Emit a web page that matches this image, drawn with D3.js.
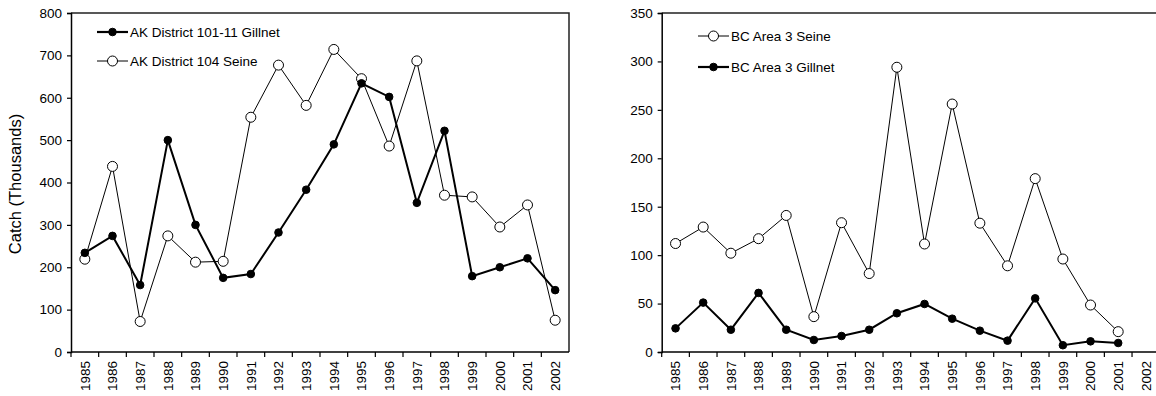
<!DOCTYPE html>
<html><head><meta charset="utf-8">
<script src="https://cdn.jsdelivr.net/npm/d3@7"></script>
<style>body{margin:0;background:#fff}svg{display:block}text{font-family:"Liberation Sans",Arial,sans-serif;fill:#000}</style>
</head><body><svg id="c" width="1156" height="396"></svg>
<script>
const years = [1985,1986,1987,1988,1989,1990,1991,1992,1993,1994,1995,1996,1997,1998,1999,2000,2001,2002];
const akGillnet = [234,274,158,500,300,175,184,282,383,490,634,602,352,522,179,200,221,146];
const akSeine = [219,438,72,274,212,214,554,677,582,714,645,486,687,370,366,295,347,75];
const bcSeine = [112,129,102,117,141,36.5,133.5,81,294,111.5,256,133,89,179,96,48.5,21];
const bcGillnet = [24.4,51,23,61,23,12.4,16.5,23,40,49.6,34.4,22,11.7,55.4,7,11,9.3];
const leftTicks = [0,100,200,300,400,500,600,700,800];
const rightTicks = [0,50,100,150,200,250,300,350];
const leftLegend = ["AK District 101-11 Gillnet","AK District 104 Seine"];
const rightLegend = ["BC Area 3 Seine","BC Area 3 Gillnet"];
const yTitle = "Catch (Thousands)";

const svg = d3.select("#c");
const plotTop = 13, plotBottom = 352, plotW = 498;

function panel(x0, yMax, yTicks, series, legend) {
  const g = svg.append("g");
  const x = d3.scaleBand().domain(years).range([x0, x0 + plotW]);
  const y = d3.scaleLinear().domain([0, yMax]).range([plotBottom, plotTop]);
  g.append("path").attr("d", `M${x0},${plotTop}H${x0+plotW}V${plotBottom}`)
    .attr("fill","none").attr("stroke","#222").attr("stroke-width",1.5);
  const ya = g.append("g").attr("transform",`translate(${x0},0)`)
    .call(d3.axisLeft(y).tickValues(yTicks).tickSize(4).tickPadding(5).tickFormat(d3.format("d")));
  ya.select(".domain").attr("stroke","#000").attr("stroke-width",1.5);
  ya.selectAll(".tick line").attr("stroke","#000").attr("stroke-width",1.2);
  ya.selectAll("text").style("font-size","13.5px").attr("fill","#000");
  const xa = g.append("g").attr("transform",`translate(0,${plotBottom})`)
    .call(d3.axisBottom(x).tickSize(0).tickPadding(0));
  xa.select(".domain").remove();
  xa.selectAll("text").style("font-size","13.5px").attr("fill","#000")
    .attr("text-anchor","end").attr("transform","rotate(-90)")
    .attr("x",-9).attr("y",0).attr("dy","0.35em");
  g.append("line").attr("x1",x0).attr("x2",x0+plotW).attr("y1",plotBottom).attr("y2",plotBottom)
    .attr("stroke","#000").attr("stroke-width",1.5);
  g.selectAll(".bt").data(years).enter().append("line")
    .attr("x1",d=>x(d)).attr("x2",d=>x(d)).attr("y1",plotBottom).attr("y2",plotBottom+5)
    .attr("stroke","#000").attr("stroke-width",1.2);
  const cx = (d,i) => x(years[i]) + x.bandwidth()/2;
  series.forEach(s => {
    const line = d3.line().x((d,i)=>cx(d,i)).y(d=>y(d));
    g.append("path").attr("d", line(s.values)).attr("fill","none")
      .attr("stroke","#000").attr("stroke-width", s.filled ? 2 : 1);
  });
  series.forEach(s => {
    g.selectAll(null).data(s.values).enter().append("circle")
      .attr("cx",(d,i)=>cx(d,i)).attr("cy",d=>y(d))
      .attr("r", s.filled ? 3.8 : 5)
      .attr("fill", s.filled ? "#000" : "#fff").attr("stroke","#000").attr("stroke-width",1);
  });
  legend.forEach(L => {
    const s = L.s;
    const lg = g.append("g").attr("transform",`translate(${L.x},${L.y})`);
    lg.append("line").attr("x1",0).attr("x2",31).attr("y1",0).attr("y2",0)
      .attr("stroke","#000").attr("stroke-width", s.filled ? 2.2 : 1);
    lg.append("circle").attr("cx",15.5).attr("cy",0).attr("r", s.filled ? 3.8 : 5)
      .attr("fill", s.filled ? "#000" : "#fff").attr("stroke","#000");
    lg.append("text").attr("x",33).attr("y",0).attr("dy","0.35em")
      .style("font-size","13.5px").text(L.label);
  });
}

const akG = {values: akGillnet, filled: true};
const akS = {values: akSeine, filled: false};
const bcS = {values: bcSeine, filled: false};
const bcG = {values: bcGillnet, filled: true};

panel(71, 800, leftTicks, [akS, akG], [
  {s: akG, label: leftLegend[0], x: 97, y: 32},
  {s: akS, label: leftLegend[1], x: 97, y: 61}
]);
panel(661.7, 350, rightTicks, [bcS, bcG], [
  {s: bcS, label: rightLegend[0], x: 698, y: 36},
  {s: bcG, label: rightLegend[1], x: 698, y: 67}
]);

svg.append("text").attr("transform","translate(21,184) rotate(-90)")
  .attr("text-anchor","middle").style("font-size","16.5px").text(yTitle);
</script></body></html>
